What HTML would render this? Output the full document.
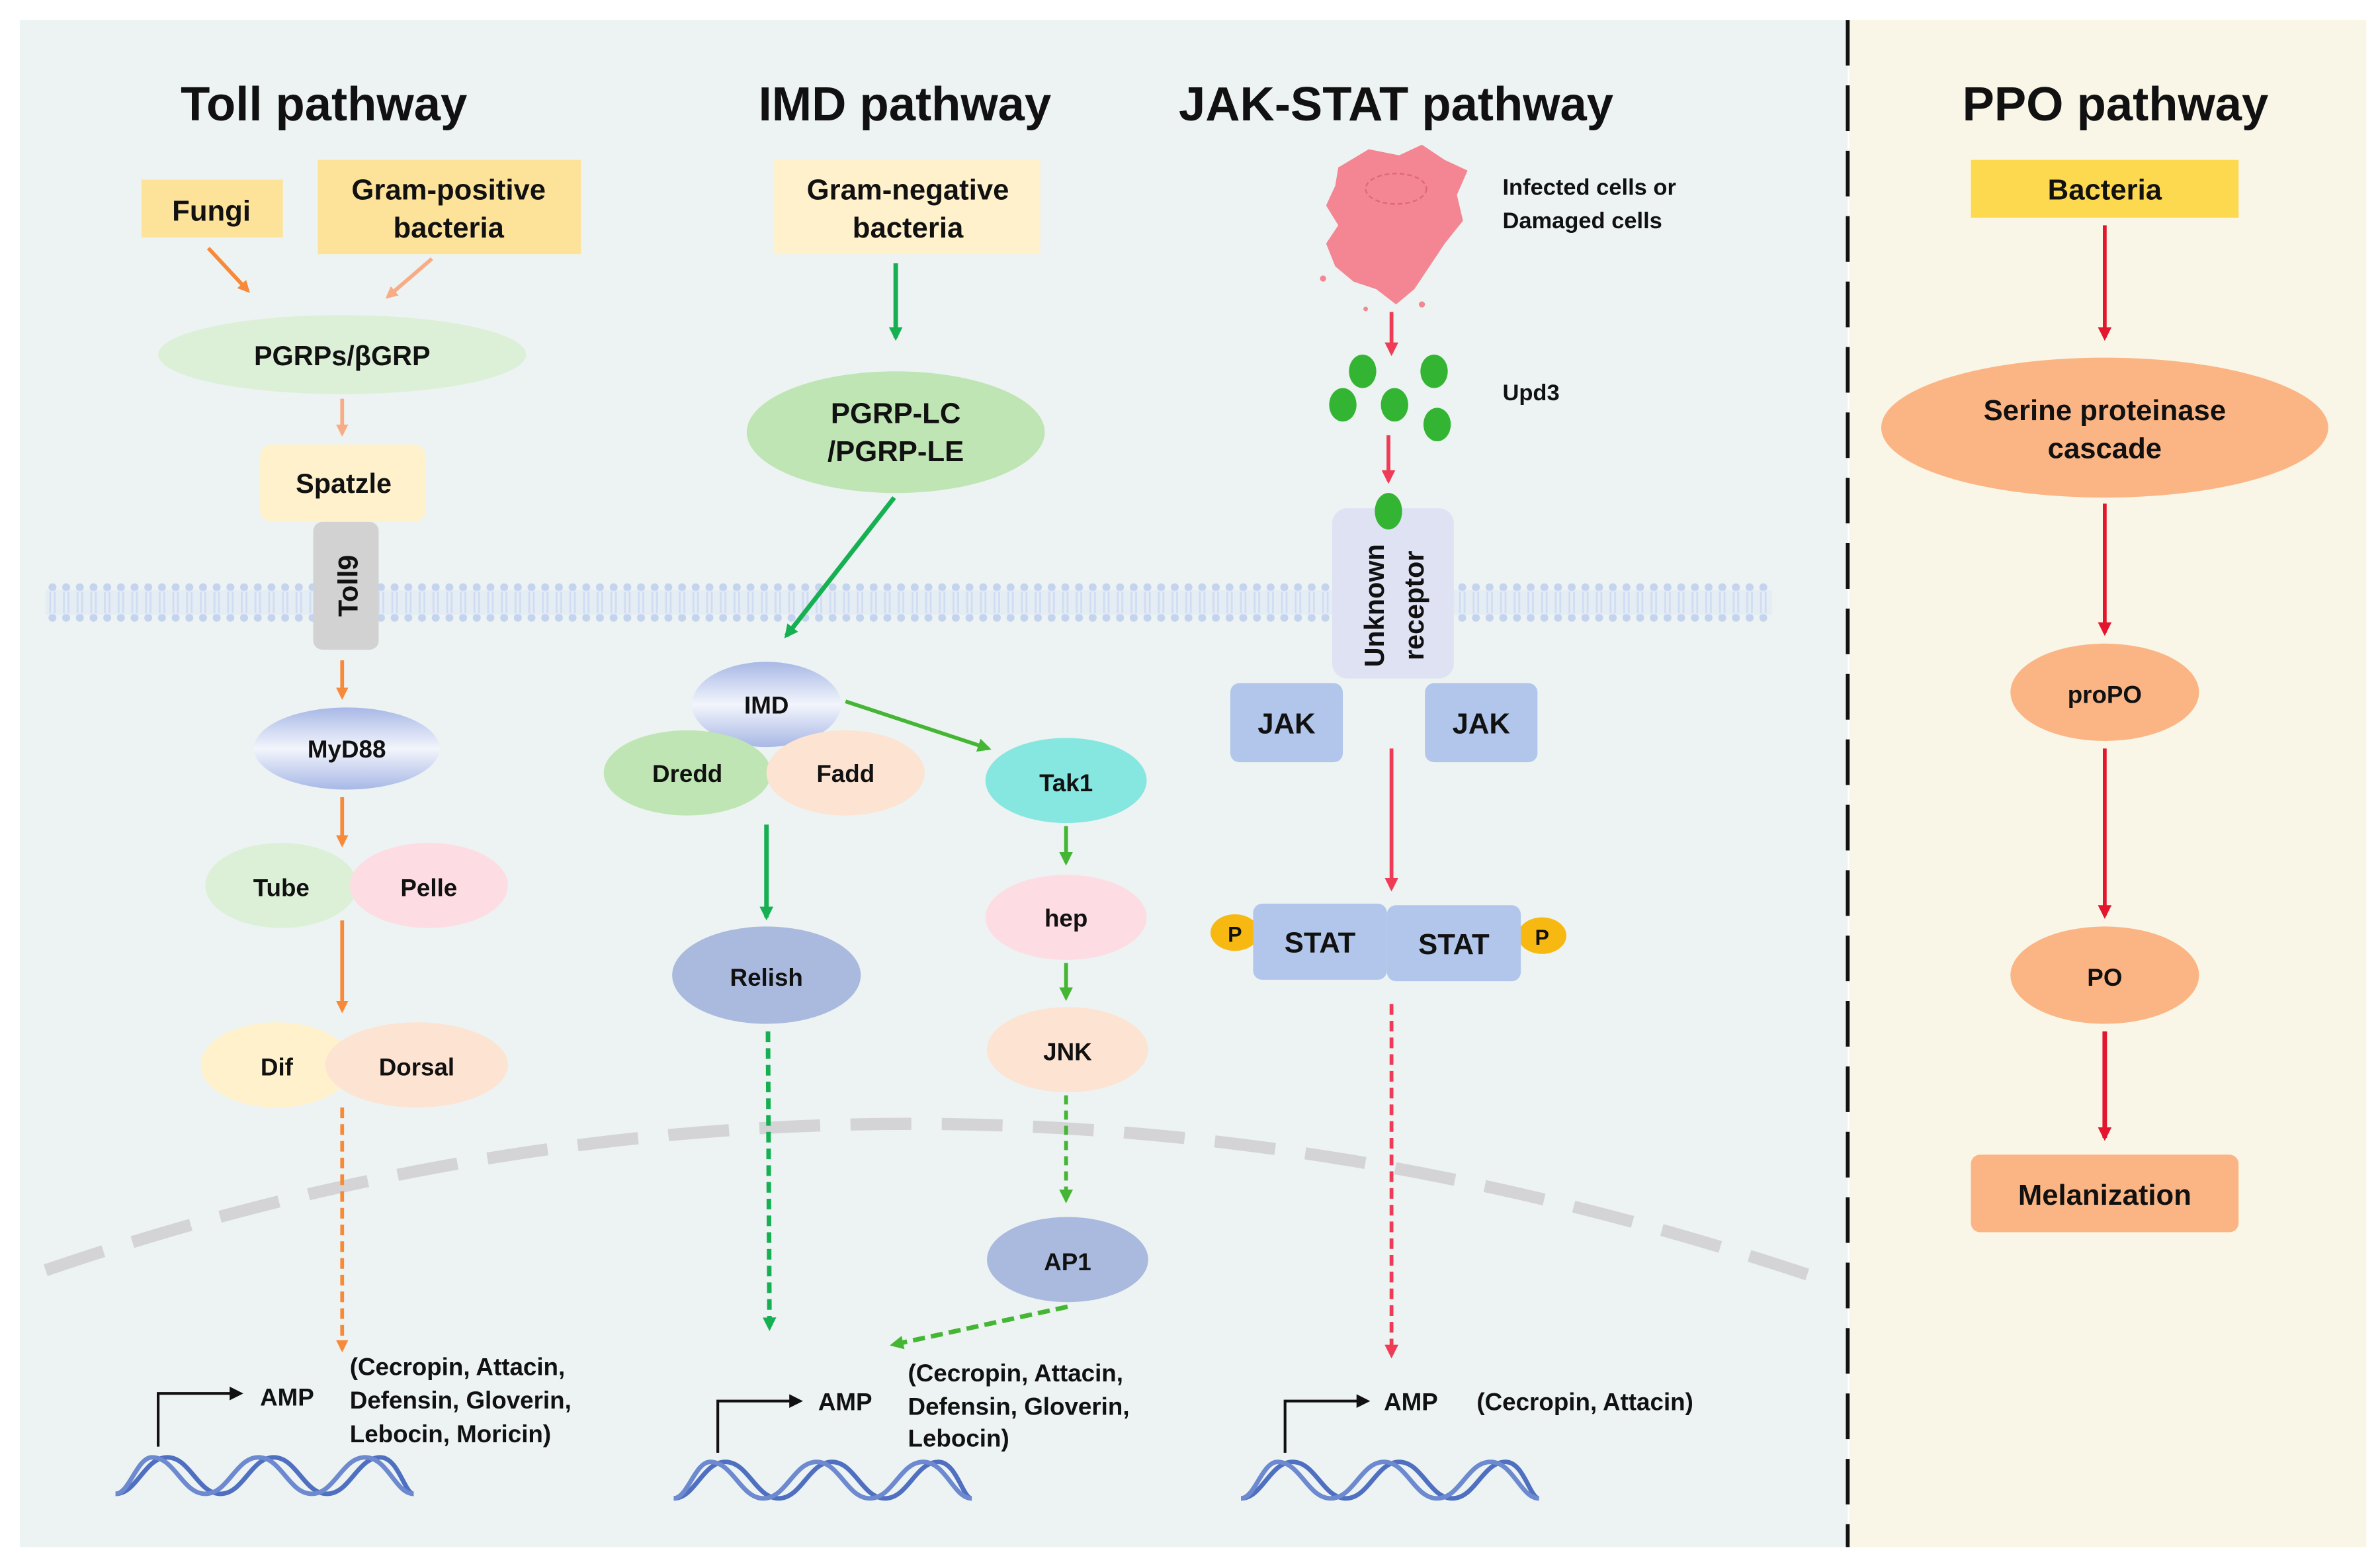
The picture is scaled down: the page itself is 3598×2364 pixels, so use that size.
<!DOCTYPE html>
<html><head><meta charset="utf-8"><style>html,body{margin:0;padding:0;background:#fff}svg{display:block}text{font-family:"Liberation Sans",Arial,sans-serif;font-weight:bold;fill:#111}</style></head>
<body>
<svg width="3598" height="2364" viewBox="0 0 1565 1028" xmlns="http://www.w3.org/2000/svg">
<defs>
<pattern id="lip" x="30" y="383" width="9" height="26" patternUnits="userSpaceOnUse">
<circle cx="4.5" cy="3" r="2.6" fill="#c4d3ee"/><circle cx="4.5" cy="23" r="2.6" fill="#c4d3ee"/>
<path d="M3,6 V20 M6,6 V20" stroke="#c4d3ee" stroke-width="1.2" fill="none"/>
</pattern>
<linearGradient id="blueg" x1="0" y1="0" x2="0" y2="1"><stop offset="0" stop-color="#a8b8e6"/><stop offset="0.5" stop-color="#f2f5fc"/><stop offset="1" stop-color="#a8b8e6"/></linearGradient>
<marker id="ao" markerWidth="8" markerHeight="8" refX="6" refY="4" orient="auto" markerUnits="userSpaceOnUse"><path d="M0,0 L8,4 L0,8 z" fill="#f7893a"/></marker>
<marker id="alo" markerWidth="8" markerHeight="8" refX="6" refY="4" orient="auto" markerUnits="userSpaceOnUse"><path d="M0,0 L8,4 L0,8 z" fill="#f8ac85"/></marker>
<marker id="ag" markerWidth="9" markerHeight="9" refX="7" refY="4.5" orient="auto" markerUnits="userSpaceOnUse"><path d="M0,0 L9,4.5 L0,9 z" fill="#16b053"/></marker>
<marker id="ag2" markerWidth="9" markerHeight="9" refX="7" refY="4.5" orient="auto" markerUnits="userSpaceOnUse"><path d="M0,0 L9,4.5 L0,9 z" fill="#44b633"/></marker>
<marker id="ar" markerWidth="9" markerHeight="9" refX="7" refY="4.5" orient="auto" markerUnits="userSpaceOnUse"><path d="M0,0 L9,4.5 L0,9 z" fill="#ef3b55"/></marker>
<marker id="ar2" markerWidth="9" markerHeight="9" refX="7" refY="4.5" orient="auto" markerUnits="userSpaceOnUse"><path d="M0,0 L9,4.5 L0,9 z" fill="#e3162e"/></marker>
<marker id="ak" markerWidth="9" markerHeight="9" refX="7" refY="4.5" orient="auto" markerUnits="userSpaceOnUse"><path d="M0,0 L9,4.5 L0,9 z" fill="#111"/></marker>
</defs>
<rect width="1565" height="1028" fill="#fff"/>
<rect x="13" y="13" width="1202" height="1004" fill="#ecf3f2"/>
<rect x="1216" y="13" width="340" height="1004" fill="#f9f6e7"/>
<line x1="1215" y1="13" x2="1215" y2="1017" stroke="#111" stroke-width="2.5" stroke-dasharray="30,13"/>
<rect x="30" y="383" width="1135" height="26" fill="url(#lip)"/>
<rect x="30" y="388" width="1135" height="16" fill="#dbe5f5" opacity="0.5"/>
<path d="M30,835 Q600,640 1195,840" fill="none" stroke="#d4d4d6" stroke-width="8" stroke-dasharray="40,20"/>
<text x="213" y="79" font-size="31.5" text-anchor="middle">Toll pathway</text>
<text x="595" y="79" font-size="31.5" text-anchor="middle">IMD pathway</text>
<text x="918" y="79" font-size="31.5" text-anchor="middle">JAK-STAT pathway</text>
<text x="1391" y="79" font-size="31.5" text-anchor="middle">PPO pathway</text>
<rect x="93" y="118" width="93" height="38" fill="#fde39a"/>
<text x="139" y="145" font-size="19" text-anchor="middle">Fungi</text>
<rect x="209" y="105" width="173" height="62" fill="#fde39a"/>
<text x="295" y="131" font-size="19" text-anchor="middle">Gram-positive</text>
<text x="295" y="156" font-size="19" text-anchor="middle">bacteria</text>
<line x1="137" y1="163" x2="163" y2="191" stroke="#f7893a" stroke-width="2.5" marker-end="url(#ao)"/>
<line x1="284" y1="170" x2="255" y2="195" stroke="#f8ac85" stroke-width="2.5" marker-end="url(#alo)"/>
<ellipse cx="225" cy="233" rx="121" ry="26" fill="#dcf0d8"/>
<text x="225" y="240" font-size="18" text-anchor="middle">PGRPs/βGRP</text>
<line x1="225" y1="262" x2="225" y2="285" stroke="#f8ac85" stroke-width="2.5" marker-end="url(#alo)"/>
<rect x="171" y="292" width="109" height="51" rx="8" fill="#fef1cb"/>
<text x="226" y="324" font-size="18" text-anchor="middle">Spatzle</text>
<rect x="206" y="343" width="43" height="84" rx="6" fill="#d2d2d2"/>
<text transform="translate(235,385) rotate(-90)" font-size="18" text-anchor="middle">Toll9</text>
<line x1="225" y1="434" x2="225" y2="458" stroke="#f7893a" stroke-width="2.5" marker-end="url(#ao)"/>
<ellipse cx="228" cy="492" rx="61" ry="27" fill="url(#blueg)"/>
<text x="228" y="498" font-size="16" text-anchor="middle">MyD88</text>
<line x1="225" y1="524" x2="225" y2="555" stroke="#f7893a" stroke-width="2.5" marker-end="url(#ao)"/>
<ellipse cx="185" cy="582" rx="50" ry="28" fill="#dcf0d8"/>
<ellipse cx="282" cy="582" rx="52" ry="28" fill="#fddde3"/>
<text x="185" y="589" font-size="16" text-anchor="middle">Tube</text>
<text x="282" y="589" font-size="16" text-anchor="middle">Pelle</text>
<line x1="225" y1="605" x2="225" y2="664" stroke="#f7893a" stroke-width="2.5" marker-end="url(#ao)"/>
<ellipse cx="182" cy="700" rx="50" ry="28" fill="#fef1cb"/>
<ellipse cx="274" cy="700" rx="60" ry="28" fill="#fde3d2"/>
<text x="182" y="707" font-size="16" text-anchor="middle">Dif</text>
<text x="274" y="707" font-size="16" text-anchor="middle">Dorsal</text>
<line x1="225" y1="728" x2="225" y2="887" stroke="#f7893a" stroke-width="2.5" stroke-dasharray="7,4" marker-end="url(#ao)"/>
<rect x="509" y="105" width="175" height="62" fill="#fef1cb"/>
<text x="597" y="131" font-size="19" text-anchor="middle">Gram-negative</text>
<text x="597" y="156" font-size="19" text-anchor="middle">bacteria</text>
<line x1="589" y1="173" x2="589" y2="222" stroke="#16b053" stroke-width="3" marker-end="url(#ag)"/>
<ellipse cx="589" cy="284" rx="98" ry="40" fill="#bfe5b4"/>
<text x="589" y="278" font-size="19" text-anchor="middle">PGRP-LC</text>
<text x="589" y="303" font-size="19" text-anchor="middle">/PGRP-LE</text>
<line x1="588" y1="327" x2="517" y2="418" stroke="#16b053" stroke-width="3" marker-end="url(#ag)"/>
<ellipse cx="504" cy="463" rx="49" ry="28" fill="url(#blueg)"/>
<text x="504" y="469" font-size="16" text-anchor="middle">IMD</text>
<ellipse cx="452" cy="508" rx="55" ry="28" fill="#bfe5b4"/>
<ellipse cx="556" cy="508" rx="52" ry="28" fill="#fde3d2"/>
<text x="452" y="514" font-size="16" text-anchor="middle">Dredd</text>
<text x="556" y="514" font-size="16" text-anchor="middle">Fadd</text>
<line x1="556" y1="461" x2="650" y2="492" stroke="#44b633" stroke-width="2.5" marker-end="url(#ag2)"/>
<ellipse cx="701" cy="513" rx="53" ry="28" fill="#86e6e0"/>
<text x="701" y="520" font-size="16" text-anchor="middle">Tak1</text>
<line x1="504" y1="542" x2="504" y2="603" stroke="#16b053" stroke-width="3" marker-end="url(#ag)"/>
<ellipse cx="504" cy="641" rx="62" ry="32" fill="#aab9de"/>
<text x="504" y="648" font-size="16" text-anchor="middle">Relish</text>
<line x1="505" y1="678" x2="506" y2="873" stroke="#16b053" stroke-width="3" stroke-dasharray="7,4" marker-end="url(#ag)"/>
<line x1="701" y1="543" x2="701" y2="567" stroke="#44b633" stroke-width="2.5" marker-end="url(#ag2)"/>
<ellipse cx="701" cy="603" rx="53" ry="28" fill="#fddde3"/>
<text x="701" y="609" font-size="16" text-anchor="middle">hep</text>
<line x1="701" y1="633" x2="701" y2="656" stroke="#44b633" stroke-width="2.5" marker-end="url(#ag2)"/>
<ellipse cx="702" cy="690" rx="53" ry="28" fill="#fde3d2"/>
<text x="702" y="697" font-size="16" text-anchor="middle">JNK</text>
<line x1="701" y1="720" x2="701" y2="789" stroke="#44b633" stroke-width="2.5" stroke-dasharray="6,4" marker-end="url(#ag2)"/>
<ellipse cx="702" cy="828" rx="53" ry="28" fill="#aab9de"/>
<text x="702" y="835" font-size="16" text-anchor="middle">AP1</text>
<line x1="702" y1="859" x2="587" y2="884" stroke="#44b633" stroke-width="3" stroke-dasharray="8,4" marker-end="url(#ag2)"/>
<g fill="#f48592">
<path d="M880,110 L900,98 L920,102 L935,95 L950,105 L965,112 L958,128 L962,145 L950,160 L940,175 L930,190 L918,200 L905,190 L890,185 L878,175 L872,160 L880,148 L872,135 L878,122 z"/>
<circle cx="870" cy="183" r="2"/><circle cx="935" cy="200" r="2"/><circle cx="898" cy="203" r="1.5"/>
</g>
<ellipse cx="918" cy="124" rx="20" ry="10" fill="none" stroke="#e06676" stroke-width="1" stroke-dasharray="3,2"/>
<text x="988" y="128" font-size="15">Infected cells or</text>
<text x="988" y="150" font-size="15">Damaged cells</text>
<line x1="915" y1="205" x2="915" y2="232" stroke="#ef3b55" stroke-width="2.5" marker-end="url(#ar)"/>
<g fill="#33b533">
<ellipse cx="896" cy="244" rx="9" ry="11"/><ellipse cx="943" cy="244" rx="9" ry="11"/>
<ellipse cx="883" cy="266" rx="9" ry="11"/><ellipse cx="917" cy="266" rx="9" ry="11"/><ellipse cx="945" cy="279" rx="9" ry="11"/>
</g>
<text x="988" y="263" font-size="15">Upd3</text>
<line x1="913" y1="286" x2="913" y2="316" stroke="#ef3b55" stroke-width="2.5" marker-end="url(#ar)"/>
<rect x="876" y="334" width="80" height="112" rx="10" fill="#dfe2f3"/>
<ellipse cx="913" cy="336" rx="9" ry="12" fill="#33b533"/>
<text transform="translate(910,398) rotate(-90)" font-size="18" text-anchor="middle">Unknown</text>
<text transform="translate(936,398) rotate(-90)" font-size="18" text-anchor="middle">receptor</text>
<rect x="809" y="449" width="74" height="52" rx="6" fill="#b1c6ea"/>
<text x="846" y="482" font-size="19" text-anchor="middle">JAK</text>
<rect x="937" y="449" width="74" height="52" rx="6" fill="#b1c6ea"/>
<text x="974" y="482" font-size="19" text-anchor="middle">JAK</text>
<line x1="915" y1="492" x2="915" y2="584" stroke="#ef3b55" stroke-width="2.5" marker-end="url(#ar)"/>
<ellipse cx="812" cy="613" rx="16" ry="12" fill="#f7b811"/>
<text x="812" y="619" font-size="14" text-anchor="middle">P</text>
<ellipse cx="1014" cy="615" rx="16" ry="12" fill="#f7b811"/>
<text x="1014" y="621" font-size="14" text-anchor="middle">P</text>
<rect x="824" y="594" width="88" height="50" rx="6" fill="#b1c6ea"/>
<rect x="912" y="595" width="88" height="50" rx="6" fill="#b1c6ea"/>
<text x="868" y="626" font-size="19" text-anchor="middle">STAT</text>
<text x="956" y="627" font-size="19" text-anchor="middle">STAT</text>
<line x1="915" y1="660" x2="915" y2="891" stroke="#ef3b55" stroke-width="2.5" stroke-dasharray="7,4" marker-end="url(#ar)"/>
<rect x="1296" y="105" width="176" height="38" fill="#fdd94f"/>
<text x="1384" y="131" font-size="19" text-anchor="middle">Bacteria</text>
<line x1="1384" y1="148" x2="1384" y2="222" stroke="#e3162e" stroke-width="2.5" marker-end="url(#ar2)"/>
<ellipse cx="1384" cy="281" rx="147" ry="46" fill="#fbb584"/>
<text x="1384" y="276" font-size="19" text-anchor="middle">Serine proteinase</text>
<text x="1384" y="301" font-size="19" text-anchor="middle">cascade</text>
<line x1="1384" y1="331" x2="1384" y2="416" stroke="#e3162e" stroke-width="2.5" marker-end="url(#ar2)"/>
<ellipse cx="1384" cy="455" rx="62" ry="32" fill="#fbb584"/>
<text x="1384" y="462" font-size="16" text-anchor="middle">proPO</text>
<line x1="1384" y1="492" x2="1384" y2="602" stroke="#e3162e" stroke-width="2.5" marker-end="url(#ar2)"/>
<ellipse cx="1384" cy="641" rx="62" ry="32" fill="#fbb584"/>
<text x="1384" y="648" font-size="16" text-anchor="middle">PO</text>
<line x1="1384" y1="678" x2="1384" y2="748" stroke="#e3162e" stroke-width="3" marker-end="url(#ar2)"/>
<rect x="1296" y="759" width="176" height="51" rx="6" fill="#fbb584"/>
<text x="1384" y="792" font-size="19" text-anchor="middle">Melanization</text>
<g stroke="#111" stroke-width="1.8" fill="none">
<path d="M104,951 V916 H158" marker-end="url(#ak)"/>
<path d="M472,955 V921 H526" marker-end="url(#ak)"/>
<path d="M845,955 V921 H899" marker-end="url(#ak)"/>
</g>
<text x="171" y="924" font-size="16">AMP</text>
<text x="230" y="904" font-size="16">(Cecropin, Attacin,</text>
<text x="230" y="926" font-size="16">Defensin, Gloverin,</text>
<text x="230" y="948" font-size="16">Lebocin, Moricin)</text>
<text x="538" y="927" font-size="16">AMP</text>
<text x="597" y="908" font-size="16">(Cecropin, Attacin,</text>
<text x="597" y="930" font-size="16">Defensin, Gloverin,</text>
<text x="597" y="951" font-size="16">Lebocin)</text>
<text x="910" y="927" font-size="16">AMP</text>
<text x="971" y="927" font-size="16">(Cecropin, Attacin)</text>
<g fill="none" stroke="#4f6fc0" stroke-width="3">
<path d="M76,982 C90,982 95,958 110,958 C125,958 130,982 145,982 C160,982 165,958 180,958 C195,958 200,982 215,982 C230,982 235,958 250,958 C262,958 266,982 272,982"/>
<path d="M76,982 C85,982 90,958 100,958 C115,958 120,982 135,982 C150,982 155,958 170,958 C185,958 190,982 205,982 C220,982 225,958 240,958 C255,958 260,982 272,982" stroke="#6d89cf"/>
<path d="M443,985 C457,985 462,961 477,961 C492,961 497,985 512,985 C527,985 532,961 547,961 C562,961 567,985 582,985 C597,985 602,961 617,961 C629,961 633,985 639,985"/>
<path d="M443,985 C452,985 457,961 467,961 C482,961 487,985 502,985 C517,985 522,961 537,961 C552,961 557,985 572,985 C587,985 592,961 607,961 C622,961 627,985 639,985" stroke="#6d89cf"/>
<path d="M816,985 C830,985 835,961 850,961 C865,961 870,985 885,985 C900,985 905,961 920,961 C935,961 940,985 955,985 C970,985 975,961 990,961 C1002,961 1006,985 1012,985"/>
<path d="M816,985 C825,985 830,961 840,961 C855,961 860,985 875,985 C890,985 895,961 910,961 C925,961 930,985 945,985 C960,985 965,961 980,961 C995,961 1000,985 1012,985" stroke="#6d89cf"/>
</g>
</svg>
</body></html>
